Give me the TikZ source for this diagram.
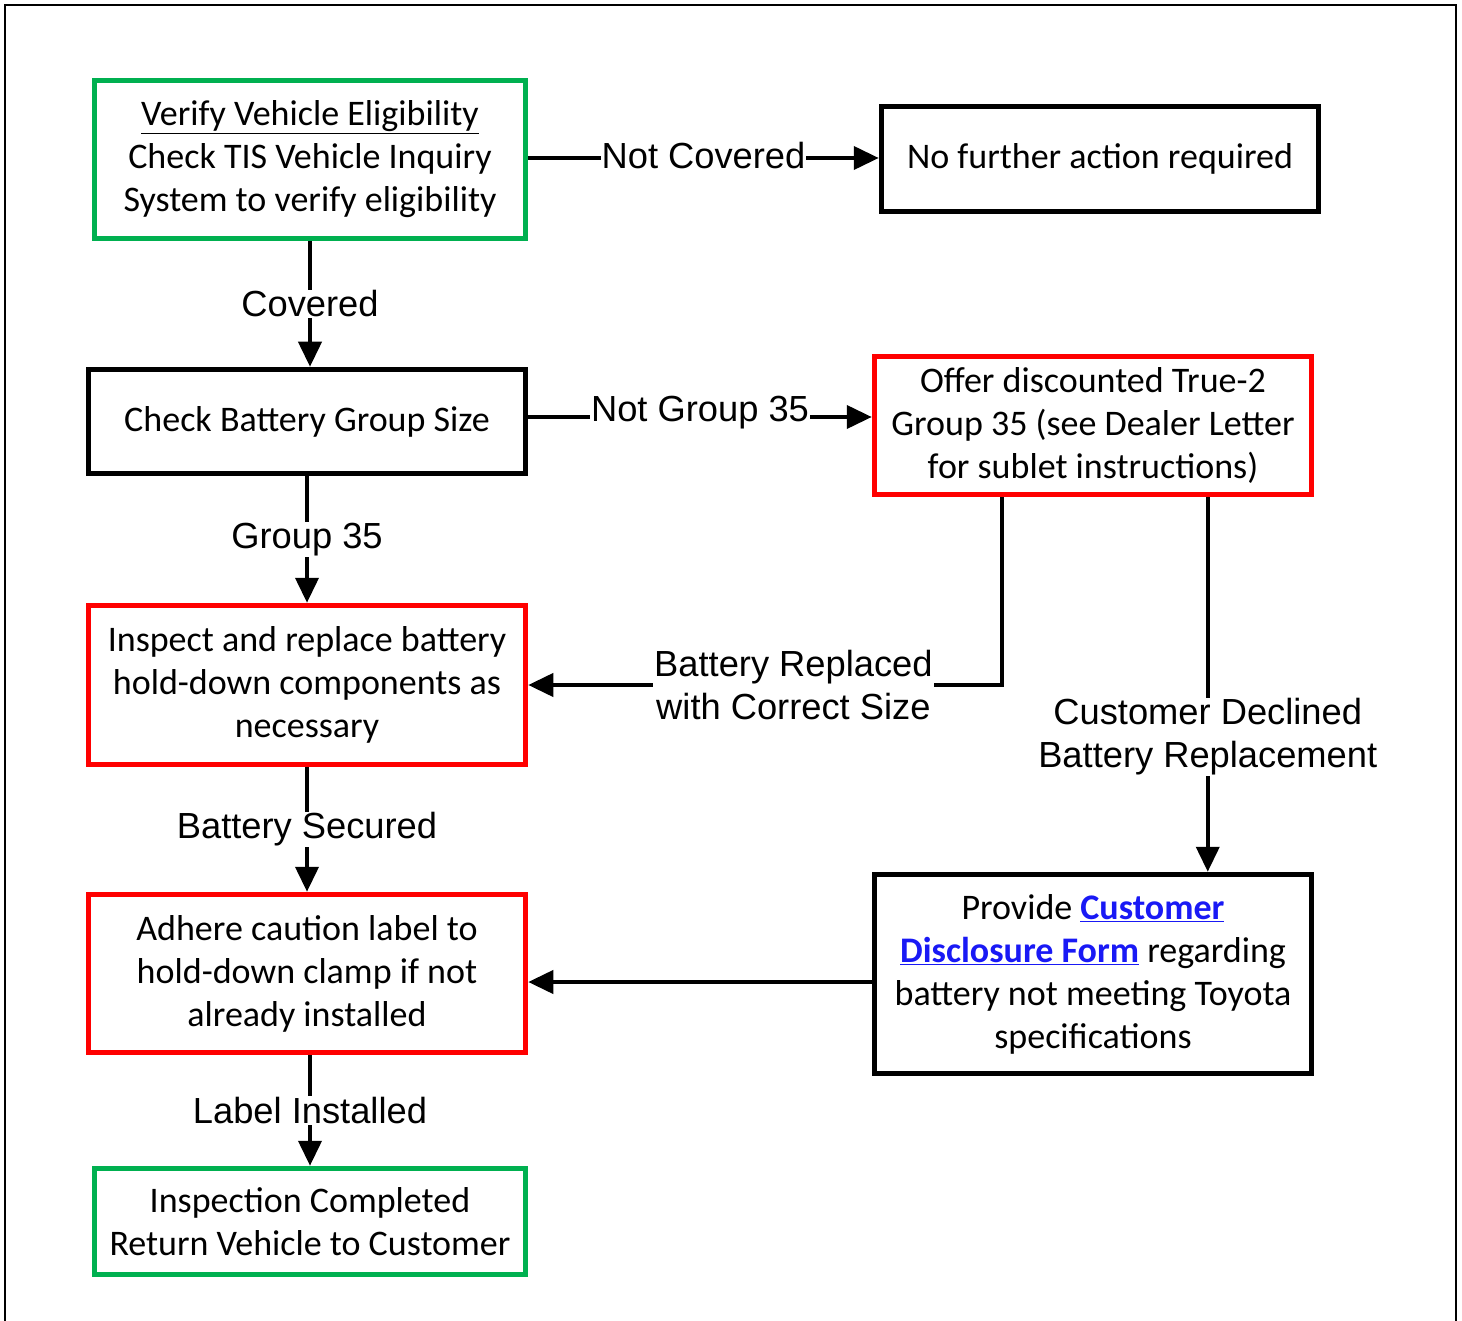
\documentclass[tikz,border=0pt]{standalone}
\usepackage{fontspec}
\setmainfont{Carlito}
\newfontfamily\lab{Liberation Sans}
\usetikzlibrary{arrows.meta,calc}
\definecolor{ggreen}{RGB}{0,176,80}
\definecolor{rred}{RGB}{255,0,0}
\definecolor{lnk}{RGB}{25,25,245}
\tikzset{
 box/.style={draw, line width=5.5pt, align=center, inner sep=0pt, font=\fontsize{36}{43}\selectfont},
 greenbox/.style={box, draw=ggreen},
 redbox/.style={box, draw=rred},
 blackbox/.style={box, draw=black},
 conn/.style={line width=4pt, -{Triangle[length=25pt,width=23pt]}},
 elab/.style={fill=white, font=\lab\fontsize{36.3}{43}\selectfont, align=center, inner sep=1pt},
}
\begin{document}
\begin{tikzpicture}[x=1pt,y=-1pt]
\useasboundingbox (0,0) rectangle (1462,1321);
\draw[line width=2.5pt] (5,1321) -- (5,5) -- (1456,5) -- (1456,1321);

\node[greenbox, minimum width=431pt, minimum height=158pt] (b1) at (310,159.5)
 {\underline{Verify Vehicle Eligibility}\\Check TIS Vehicle Inquiry\\System to verify eligibility};
\node[blackbox, minimum width=437pt, minimum height=105pt] (b2) at (1100,159)
 {No further action required};
\node[blackbox, minimum width=437pt, minimum height=104pt] (b3) at (307,421.5)
 {Check Battery Group Size};
\node[redbox, minimum width=437pt, minimum height=138pt] (b4) at (1093,425.5)
 {Offer discounted True-2\\Group 35 (see Dealer Letter\\for sublet instructions)};
\node[redbox, minimum width=437pt, minimum height=159pt] (b5) at (307,685)
 {Inspect and replace battery\\hold-down components as\\necessary};
\node[redbox, minimum width=437pt, minimum height=158pt] (b6) at (307,973.5)
 {Adhere caution label to\\hold-down clamp if not\\already installed};
\node[blackbox, minimum width=437pt, minimum height=199pt] (b7) at (1093,974)
 {Provide {\color{lnk}\bfseries\underline{Customer}}\\{\color{lnk}\bfseries\underline{Disclosure Form}} regarding\\battery not meeting Toyota\\specifications};
\node[greenbox, minimum width=431pt, minimum height=106pt] (b8) at (310,1221.5)
 {Inspection Completed\\Return Vehicle to Customer};

\draw[conn] ([yshift=1.5pt]b1.east) -- node[elab, yshift=2pt] (l1) {Not Covered} ([yshift=1.5pt]b1.east -| b2.west);
\draw[conn] (b1.south) -- node[elab] (l2) {Covered} (b1.south |- b3.north);
\draw[conn] ([yshift=4.5pt]b3.east) -- node[elab, yshift=4pt] (l3) {Not Group 35} ([yshift=4.5pt]b3.east -| b4.west);
\draw[conn] (b3.south) -- node[elab] (l4) {Group 35} (b5.north);
\draw[conn] ([xshift=130pt]b4.south west) |- node[elab, pos=0.72] (l5) {Battery Replaced\\with Correct Size} (b5.east);
\draw[conn] ([xshift=336pt]b4.south west) -- node[elab, pos=0.64] (l6) {Customer Declined\\Battery Replacement} ([xshift=336pt]b4.south west |- b7.north);
\draw[conn] (b5.south) -- node[elab] (l7) {Battery Secured} (b6.north);
\draw[conn] ([yshift=-8.5pt]b7.west |- b6.east) -- ([yshift=-8.5pt]b6.east);
\draw[conn] ([xshift=3pt]b6.south) -- node[elab] (l8) {Label Installed} ([xshift=3pt]b6.south |- b8.north);
\end{tikzpicture}
\end{document}
